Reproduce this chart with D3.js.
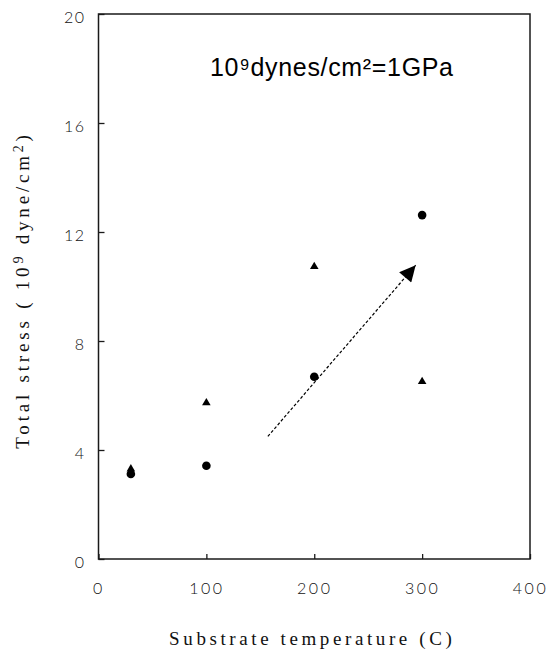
<!DOCTYPE html>
<html>
<head>
<meta charset="utf-8">
<script src="https://cdn.jsdelivr.net/npm/d3@7"></script>
<style>
  html, body { margin: 0; padding: 0; background: #fff; }
  svg { display: block; }
</style>
</head>
<body>
<svg id="chart" width="559" height="649"></svg>
<script>
// ---- data ----
const xTicks = [0, 100, 200, 300, 400];
const yTicks = [0, 4, 8, 12, 16, 20];
const circleTemp = [30, 100, 200, 300];
const circleStress = [3.12, 3.42, 6.69, 12.62];
const triangleTemp = [30, 100, 200, 300];
const triangleStress = [3.30, 5.73, 10.73, 6.51];
const arrowFrom = [157, 4.5];
const arrowTo = [294, 10.78];
const noteText = "10⁹dynes/cm²=1GPa";
const xTitle = "Substrate temperature (C)";

const svg = d3.select("#chart");
const x = d3.scaleLinear().domain([0, 400]).range([98.5, 530]);
const y = d3.scaleLinear().domain([0, 20]).range([559, 14]);

const ink = "#1a1a1a";
const tickFont = "Lato, 'DejaVu Sans', sans-serif";
const serif = "'Liberation Serif', 'DejaVu Serif', serif";

// Frame
svg.append("rect")
  .attr("x", x(0)).attr("y", y(20))
  .attr("width", x(400) - x(0)).attr("height", y(0) - y(20))
  .attr("fill", "none").attr("stroke", ink).attr("stroke-width", 1.5);

// Y axis
const gy = svg.append("g").attr("transform", `translate(${x(0)},0)`)
  .call(d3.axisLeft(y).tickValues(yTicks).tickSize(-6).tickPadding(13).tickFormat(d3.format("d")));
gy.select(".domain").remove();
gy.selectAll(".tick line").attr("stroke", ink).attr("stroke-width", 1.3);
gy.selectAll(".tick text")
  .attr("font-family", tickFont).attr("font-weight", 300)
  .attr("font-size", 16).attr("fill", "#111").attr("dy", "0.55em")
  .attr("letter-spacing", 1.5);

// X axis
const gx = svg.append("g").attr("transform", `translate(0,${y(0)})`)
  .call(d3.axisBottom(x).tickValues(xTicks).tickSize(-5).tickPadding(24).tickFormat(d3.format("d")));
gx.select(".domain").remove();
gx.selectAll(".tick line").attr("stroke", ink).attr("stroke-width", 1.3);
gx.selectAll(".tick text")
  .attr("font-family", tickFont).attr("font-weight", 300)
  .attr("font-size", 16).attr("fill", "#111")
  .attr("letter-spacing", 2.5);

// Axis titles
svg.append("text")
  .attr("x", (x(0) + x(400)) / 2 - 2).attr("y", 645)
  .attr("text-anchor", "middle")
  .attr("font-family", serif).attr("font-size", 19)
  .attr("letter-spacing", 3.6).attr("fill", "#111")
  .text(xTitle);

const yt = svg.append("text")
  .attr("transform", "translate(29,290) rotate(-90)")
  .attr("text-anchor", "middle")
  .attr("font-family", serif).attr("font-size", 19)
  .attr("letter-spacing", 3.8).attr("fill", "#111");
yt.append("tspan").text("Total stress ( 10");
yt.append("tspan").attr("font-size", 14).attr("dy", -6).text("9");
yt.append("tspan").attr("dy", 6).text(" dyne/cm");
yt.append("tspan").attr("font-size", 14).attr("dy", -6).text("2");
yt.append("tspan").attr("dy", 6).text(")");

// Annotation
svg.append("text")
  .attr("x", 210).attr("y", 76)
  .attr("font-family", "'Liberation Sans', Arial, sans-serif")
  .attr("font-size", 25).attr("fill", "#000")
  .attr("textLength", 243).attr("lengthAdjust", "spacing")
  .text(noteText);

// Arrow
svg.append("defs").append("marker")
  .attr("id", "ah").attr("viewBox", "0 0 10 10")
  .attr("refX", 10).attr("refY", 5)
  .attr("markerWidth", 18).attr("markerHeight", 16)
  .attr("markerUnits", "userSpaceOnUse")
  .attr("orient", "auto")
  .append("path").attr("d", "M0,0 L10,5 L0,10 Z").attr("fill", "#000");

svg.append("line")
  .attr("x1", x(arrowFrom[0])).attr("y1", y(arrowFrom[1]))
  .attr("x2", x(arrowTo[0])).attr("y2", y(arrowTo[1]))
  .attr("stroke", "#000").attr("stroke-width", 1.2)
  .attr("stroke-dasharray", "3,2")
  .attr("marker-end", "url(#ah)");

// Triangles
const triangles = triangleTemp.map((t, i) => ({t, s: triangleStress[i]}));
svg.selectAll(".tri").data(triangles).enter().append("path")
  .attr("class", "tri")
  .attr("transform", d => `translate(${x(d.t)},${y(d.s)})`)
  .attr("d", d3.symbol().type(d3.symbolTriangle).size(32))
  .attr("fill", "#000");

// Circles
const circles = circleTemp.map((t, i) => ({t, s: circleStress[i]}));
svg.selectAll(".dot").data(circles).enter().append("circle")
  .attr("class", "dot")
  .attr("cx", d => x(d.t)).attr("cy", d => y(d.s))
  .attr("r", 4.3).attr("fill", "#000");
</script>
</body>
</html>
